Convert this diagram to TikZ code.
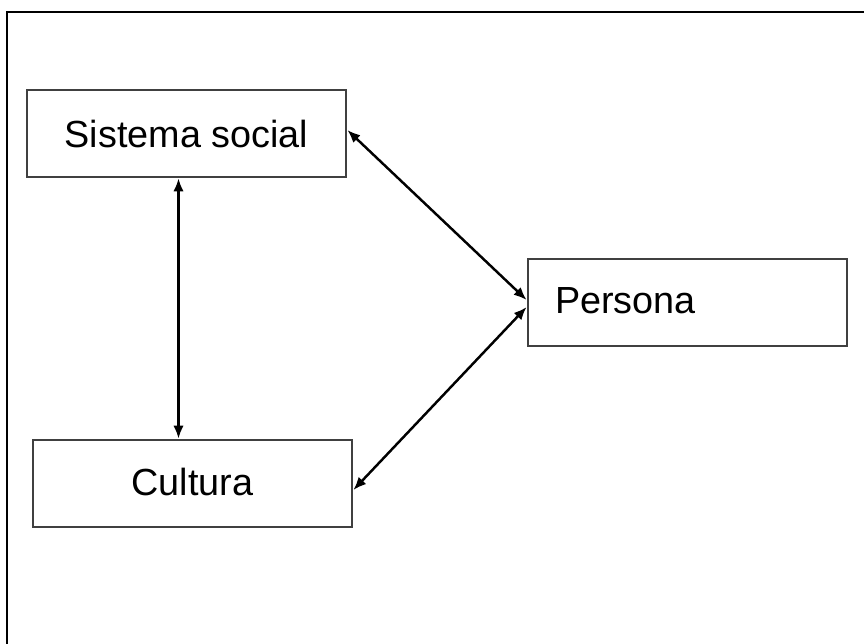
\documentclass[tikz,border=0pt]{standalone}
\usepackage{fontspec}
\setmainfont{Liberation Sans}
\usetikzlibrary{arrows.meta}

\begin{document}
\begin{tikzpicture}[x = 0.02cm, y = -0.02cm,
    caja/.style = {draw = black!75, line width = 1.6pt, rectangle, minimum width = 6.38cm, minimum height = 1.74cm, font = \fontsize{21.5}{26}\selectfont},
    flecha/.style = {line width = 1.4pt, {Latex[length=2.6mm, width=2.1mm]}-{Latex[length=2.6mm, width=2.1mm]}}]
    \useasboundingbox (0, 0) rectangle (864, 643);
    \draw[line width = 1.1pt] (7, 660) -- (7, 12) -- (880, 12);
    \node (sistema) at (186.5, 133.5) [caja] {Sistema social};
    \node (persona) at (687.5, 302.5) [caja, text width = 5.3cm, align = left] {\raisebox{0.08cm}{Persona}};
    \node (cultura) at (192.5, 483.5) [caja] {\raisebox{0.08cm}{Cultura}};
    \draw[flecha] ([xshift = -0.16cm]sistema.south) -- ([xshift = -0.16cm]sistema.south |- cultura.north);
    \draw[flecha] ([yshift = 0.07cm]sistema.east) -- ([yshift = 0.05cm]persona.west);
    \draw[flecha] ([yshift = -0.13cm]cultura.east) -- ([yshift = -0.09cm]persona.west);
\end{tikzpicture}
\end{document}
